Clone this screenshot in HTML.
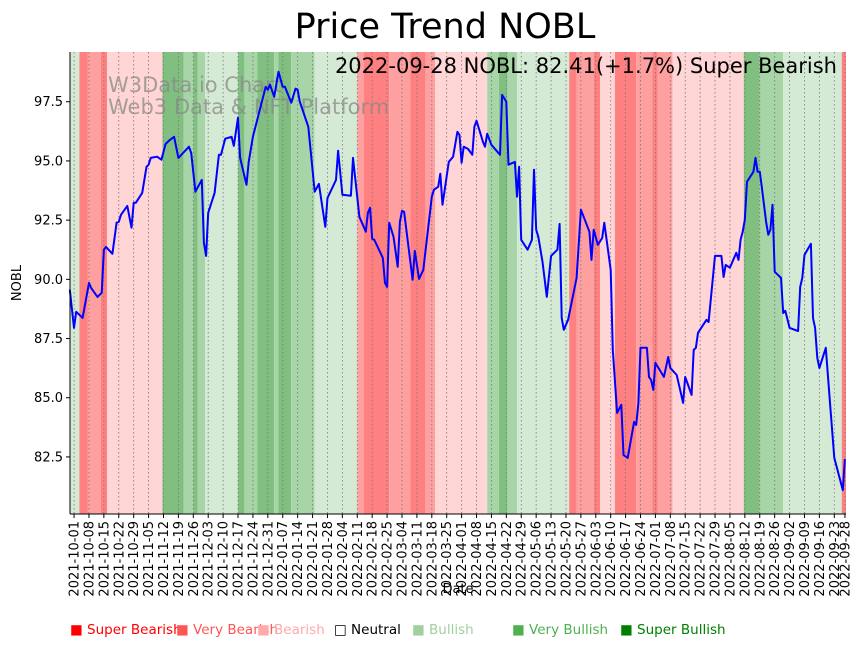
<!DOCTYPE html>
<html><head><meta charset="utf-8"><style>
html,body{margin:0;padding:0;background:#fff;}
svg{display:block;font-family:"DejaVu Sans","Liberation Sans",sans-serif;}
</style></head><body>
<svg id="chart" width="864" height="646" viewBox="0 0 864 646" xmlns="http://www.w3.org/2000/svg">
<text x="445" y="38" font-size="35" text-anchor="middle" fill="#000">Price Trend NOBL</text>
<g id="bands"></g>
<g id="grid"></g>
<text x="108" y="92" font-size="21" fill="#888" fill-opacity="0.75">W3Data.io Chart</text>
<text x="108" y="114" font-size="21" fill="#888" fill-opacity="0.75">Web3 Data &amp; NFT Platform</text>
<path id="line" fill="none" stroke="#0000ff" stroke-width="2" stroke-linejoin="round"/>
<text x="837" y="73" font-size="21" text-anchor="end" fill="#000">2022-09-28 NOBL: 82.41(+1.7%) Super Bearish</text>
<g id="axes"></g>
<text transform="translate(21,283) rotate(-90)" font-size="13" text-anchor="middle">NOBL</text>
<text x="458" y="593" font-size="13" text-anchor="middle">Date</text>
<g id="legend"></g>
</svg>
<script>
// data: day offsets from 2021-10-01 and closing values
const days = [-2,0,1,4,7,8,11,13,14,15,18,20,21,22,25,27,28,29,32,34,35,36,39,41,43,45,47,49,54,55,57,60,61,62,63,66,68,69,71,74,75,77,78,81,82,84,87,90,91,92,94,96,98,99,102,104,105,106,110,113,115,118,119,123,124,126,130,131,134,137,138,139,140,141,145,146,147,148,150,152,153,154,155,159,160,162,164,168,169,171,172,173,176,178,180,181,182,183,185,187,188,189,192,193,194,196,200,201,203,204,207,208,209,210,213,215,216,217,218,220,222,224,227,228,229,230,232,236,238,242,243,244,246,248,249,252,253,255,257,258,260,263,264,265,266,269,270,271,272,273,277,279,280,283,286,287,290,291,292,293,297,298,301,304,305,306,308,311,312,313,314,315,316,319,320,321,322,323,325,326,327,328,329,332,333,334,336,340,341,342,343,346,347,348,349,350,353,355,357,361,362];
const prices = [89.56,87.95,88.63,88.37,89.85,89.64,89.26,89.43,91.25,91.37,91.08,92.39,92.43,92.72,93.10,92.18,93.23,93.23,93.65,94.75,94.84,95.13,95.18,95.05,95.72,95.89,96.02,95.13,95.60,95.34,93.70,94.20,91.54,90.99,92.81,93.65,95.26,95.26,95.94,96.02,95.64,96.82,95.13,93.99,94.96,96.02,97.08,98.13,98.01,98.22,97.71,98.77,98.13,98.13,97.46,98.05,98.01,97.50,96.44,93.70,94.03,92.22,93.44,94.20,95.43,93.57,93.53,95.13,92.64,92.01,92.81,93.02,91.71,91.67,90.91,89.85,89.68,92.39,91.80,90.53,92.43,92.89,92.85,89.98,91.20,90.02,90.40,93.49,93.78,93.91,94.46,93.15,94.96,95.18,96.23,96.10,94.92,95.60,95.51,95.26,96.44,96.70,95.81,95.60,96.15,95.68,95.26,97.79,97.50,94.84,94.96,93.49,94.75,91.67,91.25,91.67,94.63,92.09,91.80,90.74,89.26,90.99,91.25,92.34,88.37,87.87,88.29,90.06,92.94,92.01,90.82,92.09,91.46,91.75,92.39,90.40,87.02,84.36,84.70,82.58,82.46,83.98,83.85,84.78,87.11,87.11,85.88,85.75,85.33,86.47,85.88,86.72,86.26,85.96,84.78,85.88,85.12,87.02,87.11,87.74,88.29,88.20,90.99,90.99,90.10,90.61,90.49,91.12,90.82,91.67,92.01,92.51,94.12,94.54,95.13,94.54,94.54,93.86,92.43,91.88,92.09,93.15,90.32,90.06,88.58,88.67,87.95,87.82,89.68,90.06,91.03,91.50,88.37,87.95,86.68,86.26,87.11,84.78,82.46,81.10,82.41];
// sentiment bands: start day, end day, level (-3 super bearish .. 3 super bullish)
const bandStart = [-2,2.5,6.5,12.5,15.5,41.5,51.5,56,58,61.5,77,80,86,94,96,102,113,133,136,148,158,165,169.5,194,199.5,203.5,208,232.5,236,244,247,254,264,271.5,274,281,314.5,322,333,360.5];
const bandEnd   = [2.5,6.5,12.5,15.5,41.5,51.5,56,58,61.5,77,80,86,94,96,102,113,133,136,148,158,165,169.5,194,199.5,203.5,208,232.5,236,244,247,254,264,271.5,274,281,314.5,322,333,360.5,363];
const bandLevel = [1,-3,-2,-3,-1,3,2,3,2,1,3,2,3,2,3,2,1,-2,-3,-2,-3,-2,-1,2,3,2,1,-3,-2,-3,-1,-3,-2,-3,-2,-1,3,2,1,-3];
const yTicks = [82.5,85.0,87.5,90.0,92.5,95.0,97.5];
const legendLabels = ["Super Bearish","Very Bearish","Bearish","Neutral","Bullish","Very Bullish","Super Bullish"];
const legendColors = ["#ff0000","#ff5555","#ffaaaa","#000000","#a0d0a0","#50b050","#008000"];

const NS="http://www.w3.org/2000/svg";
const L=70,R=846,T=52,B=514;
const xMin=-1.9,xMax=362.5,yMin=80.09,yMax=99.6;
const xs=d=>L+(d-xMin)/(xMax-xMin)*(R-L);
const ys=v=>B-(v-yMin)/(yMax-yMin)*(B-T);
const levelColor={"-3":"#ff8080","-2":"#ffa0a0","-1":"#ffd5d5","0":"#ffffff","1":"#d5ead5","2":"#a8d5a8","3":"#80bf80"};
function mk(tag,attrs,parent){const e=document.createElementNS(NS,tag);for(const k in attrs)e.setAttribute(k,attrs[k]);parent.appendChild(e);return e;}

const gb=document.getElementById('bands');
for(let i=0;i<bandStart.length;i++){
  const x0=Math.max(L,xs(bandStart[i])),x1=Math.min(R,xs(bandEnd[i]));
  const r=mk('rect',{x:x0,y:T,width:Math.max(0,x1-x0),height:B-T,fill:levelColor[bandLevel[i]]},gb);
  
  
}
const gg=document.getElementById('grid'),ga=document.getElementById('axes');
const base=new Date(Date.UTC(2021,9,1));
const tickDays=[];for(let d=0;d<=357;d+=7)tickDays.push(d);tickDays.push(362);
function fmt(d){const t=new Date(base.getTime()+d*86400000);return t.toISOString().slice(0,10);}
tickDays.forEach(d=>{
  const x=xs(d);
  const g=mk('line',{x1:x,x2:x,y1:T,y2:B,stroke:'#777','stroke-width':0.8,'stroke-dasharray':'1.5,2.5'},gg);
  
  
  mk('line',{x1:x,x2:x,y1:B,y2:B+4,stroke:'#000','stroke-width':1},ga);
  const t=mk('text',{transform:`translate(${x+4.5},${B+7}) rotate(-90)`,'font-size':13,'text-anchor':'end'},ga);
  t.textContent=fmt(d);
  
  
});
yTicks.forEach(v=>{
  const y=ys(v);
  mk('line',{x1:L-4,x2:L,y1:y,y2:y,stroke:'#000','stroke-width':1},ga);
  const t=mk('text',{x:L-7,y:y+4.5,'font-size':13,'text-anchor':'end'},ga);
  t.textContent=v.toFixed(1);
  
  
});
mk('line',{x1:L,x2:L,y1:T,y2:B,stroke:'#000','stroke-width':1},ga);
mk('line',{x1:L,x2:R,y1:B,y2:B,stroke:'#000','stroke-width':1},ga);

document.getElementById('line').setAttribute('d',days.map((d,i)=>(i?'L':'M')+xs(d).toFixed(1)+','+ys(prices[i]).toFixed(1)).join(''));

const gl=document.getElementById('legend');
const legX=[70,176,257,334,412,512,620];
legendLabels.forEach((lab,i)=>{
  const t=mk('text',{x:legX[i],y:634,'font-size':13.5,fill:legendColors[i]},gl);
  t.textContent=(i===3?'□ ':'■ ')+lab;
  
  
});
</script>
</body></html>
